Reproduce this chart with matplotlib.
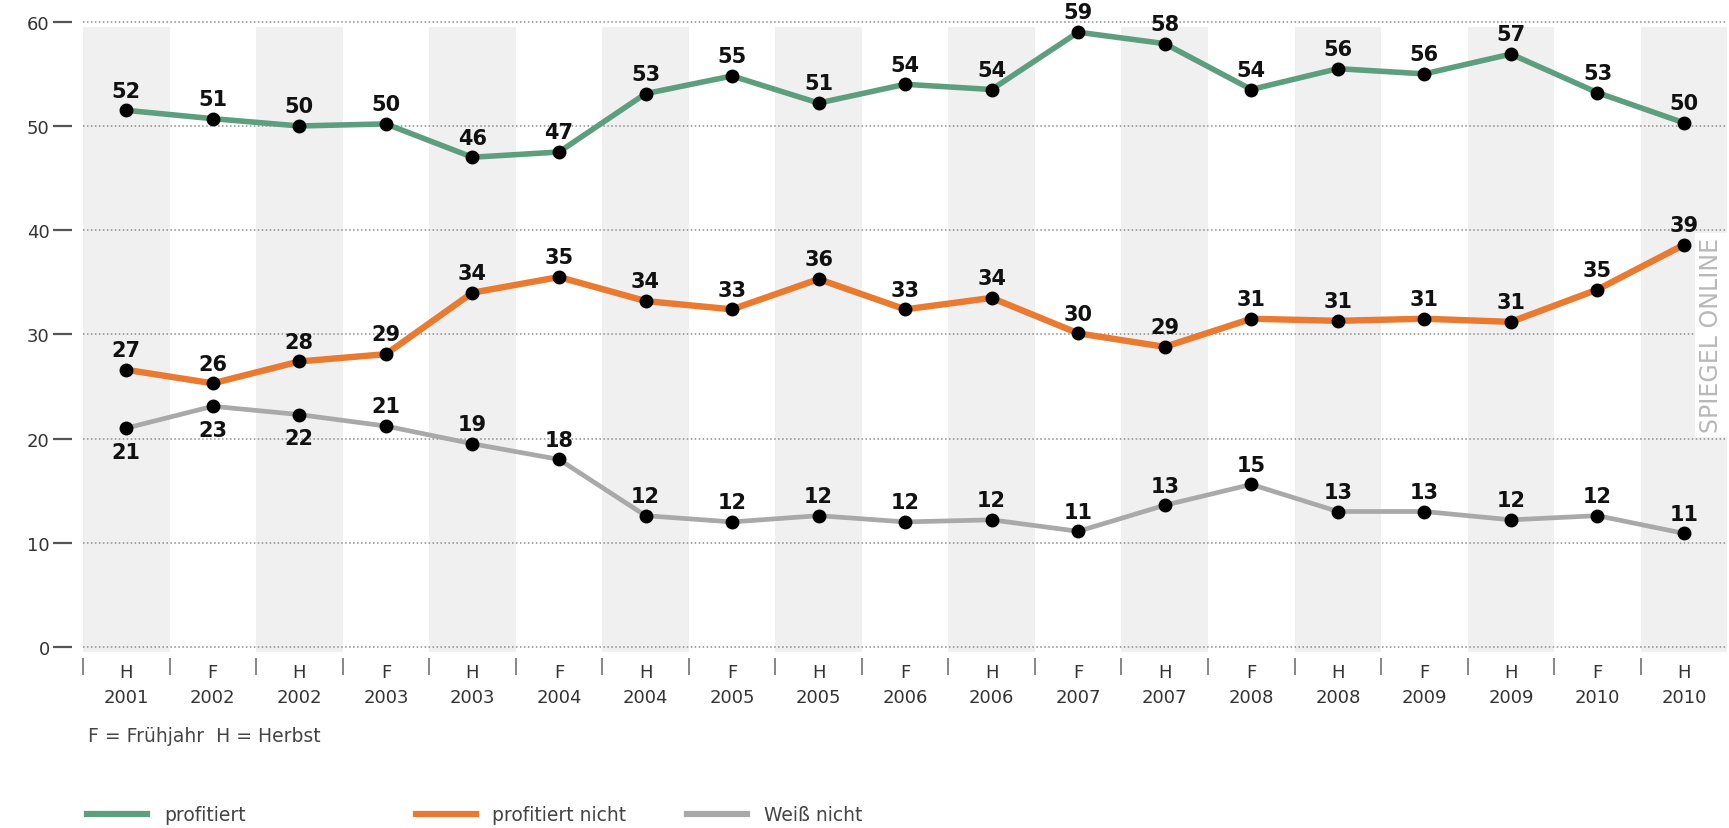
import matplotlib

matplotlib.use("Agg")
import matplotlib.pyplot as plt
import numpy as np
from matplotlib.lines import Line2D


SEASONS = ["H", "F", "H", "F", "H", "F", "H", "F", "H", "F", "H", "F", "H", "F", "H", "F", "H", "F", "H"]
YEARS = [2001, 2002, 2002, 2003, 2003, 2004, 2004, 2005, 2005, 2006,
         2006, 2007, 2007, 2008, 2008, 2009, 2009, 2010, 2010]

PROFITIERT = [51.5, 50.7, 50.0, 50.2, 47.0, 47.5, 53.1, 54.8, 52.2, 54.0,
              53.5, 59.0, 57.9, 53.5, 55.5, 55.0, 56.9, 53.2, 50.3]
PROFITIERT_LABELS = [52, 51, 50, 50, 46, 47, 53, 55, 51, 54, 54, 59, 58, 54, 56, 56, 57, 53, 50]

PROFITIERT_NICHT = [26.6, 25.3, 27.4, 28.1, 34.0, 35.5, 33.2, 32.4, 35.3, 32.4,
                    33.5, 30.1, 28.8, 31.5, 31.3, 31.5, 31.2, 34.3, 38.6]
PROFITIERT_NICHT_LABELS = [27, 26, 28, 29, 34, 35, 34, 33, 36, 33, 34, 30, 29, 31, 31, 31, 31, 35, 39]

WEISS_NICHT = [21.0, 23.1, 22.3, 21.2, 19.5, 18.0, 12.6, 12.0, 12.6, 12.0,
               12.2, 11.1, 13.6, 15.6, 13.0, 13.0, 12.2, 12.6, 10.9]
WEISS_NICHT_LABELS = [21, 23, 22, 21, 19, 18, 12, 12, 12, 12, 12, 11, 13, 15, 13, 13, 12, 12, 11]

Y_TICKS = [0, 10, 20, 30, 40, 50, 60]

GREEN = "#5c9e7e"
ORANGE = "#e97a2f"
GREY = "#a9a9a9"
TEXT = "#333333"


def _label_points(axis, x, values, labels, below=None):
    for index, (xv, yv, text) in enumerate(zip(x, values, labels)):
        under = below is not None and below[index]
        axis.annotate(
            str(text),
            (xv, yv),
            xytext=(0, -10 if under else 7),
            textcoords="offset points",
            ha="center",
            va="top" if under else "bottom",
            fontsize=15,
            fontweight="bold",
            color="#111111",
        )


def main() -> None:
    plt.rcParams["font.family"] = ["DejaVu Sans"]
    figure = plt.figure(figsize=(17.29, 8.29), dpi=100)
    axis = figure.add_axes([0.048, 0.2121, 0.951, 0.773])

    x = np.arange(len(YEARS))
    axis.set_xlim(-0.5, len(YEARS) - 0.5)
    axis.set_ylim(-0.5, 61)

    # alternating column shading
    for index in x[::2]:
        axis.axvspan(index - 0.5, index + 0.5, ymin=0, ymax=0.975, color="#f0f0f0", lw=0, zorder=0)

    axis.set_yticks(Y_TICKS)
    axis.yaxis.grid(True, linestyle=(0, (1, 1.6)), color="#8c8c8c", linewidth=1.1, zorder=1)
    axis.set_axisbelow(True)

    series = [
        (PROFITIERT, PROFITIERT_LABELS, GREEN, 4.0),
        (PROFITIERT_NICHT, PROFITIERT_NICHT_LABELS, ORANGE, 4.6),
        (WEISS_NICHT, WEISS_NICHT_LABELS, GREY, 3.4),
    ]
    for values, labels, color, width in series:
        axis.plot(x, values, color=color, linewidth=width, zorder=3,
                  marker="o", markersize=9, markerfacecolor="black",
                  markeredgecolor="black", solid_joinstyle="round")

    _label_points(axis, x, PROFITIERT, PROFITIERT_LABELS)
    _label_points(axis, x, PROFITIERT_NICHT, PROFITIERT_NICHT_LABELS)
    gap = np.asarray(PROFITIERT_NICHT) - np.asarray(WEISS_NICHT)
    _label_points(axis, x, WEISS_NICHT, WEISS_NICHT_LABELS, below=gap < 6.5)

    for name in ["top", "right", "bottom", "left"]:
        axis.spines[name].set_color("none")
    axis.spines["left"].set_position(("outward", 8))
    axis.spines["bottom"].set_position(("outward", 4))

    axis.tick_params(axis="y", length=14, width=1.6, color="#555555", pad=2,
                     labelsize=13, labelcolor=TEXT)
    axis.set_xticks(x)
    axis.set_xticklabels([f"{s}\n{y}" for s, y in zip(SEASONS, YEARS)], linespacing=1.45)
    axis.set_xticks(x - 0.5, minor=True)
    axis.tick_params(axis="x", which="major", length=0, pad=4, labelsize=13, labelcolor=TEXT)
    axis.tick_params(axis="x", which="minor", length=12, width=1.1, color="#666666")

    # vertical watermark on a white strip
    figure.text(0.9895, 0.595, "SPIEGEL ONLINE", rotation=90, ha="center", va="center",
                fontsize=17, color="#b8b8b8",
                bbox=dict(facecolor="white", edgecolor="none", pad=3))

    figure.text(88 / 1729, 1 - 737 / 829, "F = Frühjahr  H = Herbst", ha="left", va="center",
                fontsize=13.5, color="#444444")

    entries = [("profitiert", GREEN, 0.046), ("profitiert nicht", ORANGE, 0.236),
               ("Weiß nicht", GREY, 0.393)]
    for label, color, left in entries:
        handle = Line2D([], [], color=color, linewidth=4.5)
        legend = figure.legend([handle], [label], loc="center left",
                               bbox_to_anchor=(left, 1 - 816 / 829), frameon=False,
                               fontsize=13.5, handlelength=3.2, handletextpad=0.9,
                               borderaxespad=0)
        for text in legend.get_texts():
            text.set_color("#444444")

    figure.savefig("out.png", dpi=100)
    plt.close(figure)


if __name__ == "__main__":
    main()
